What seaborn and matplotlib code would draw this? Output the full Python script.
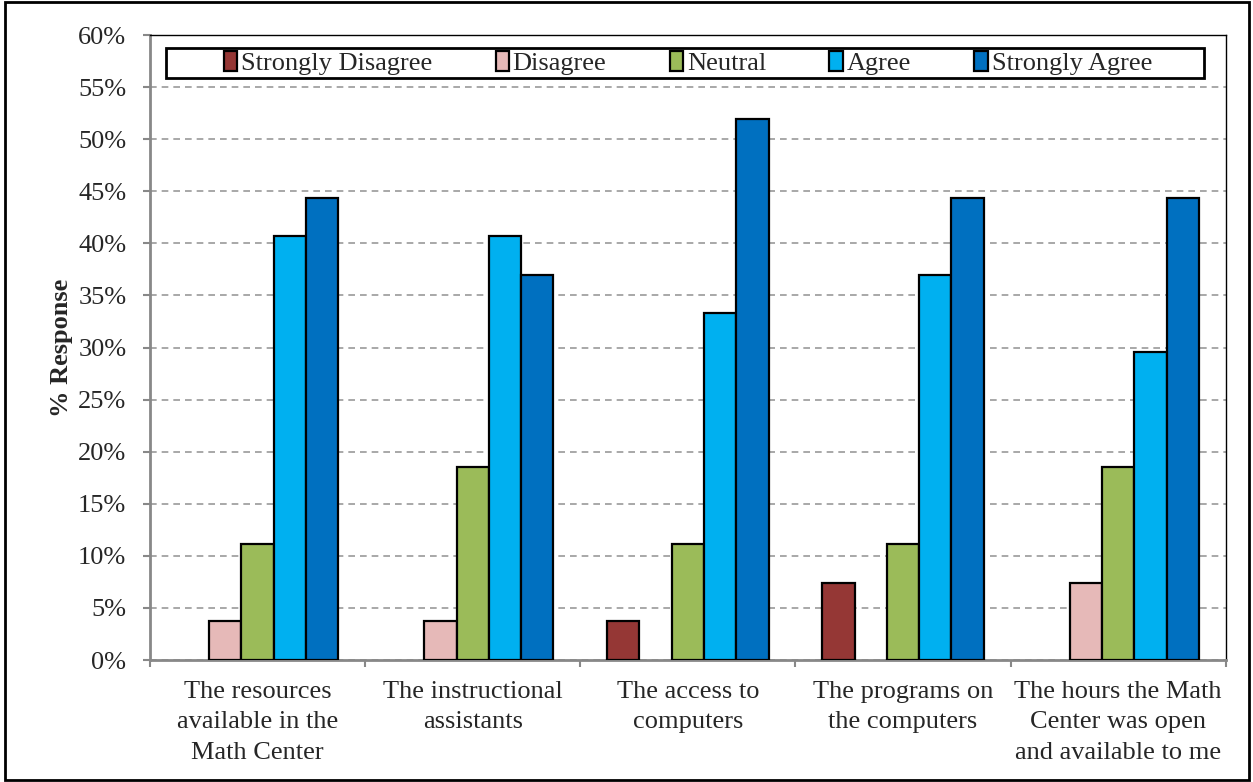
import matplotlib
matplotlib.use("Agg")
import matplotlib.pyplot as plt
import seaborn as sns
import pandas as pd
from matplotlib.ticker import PercentFormatter, MultipleLocator
from matplotlib.patches import Rectangle

# Survey items (x categories)
items = [
    "The resources\navailable in the\nMath Center",
    "The instructional\nassistants",
    "The access to\ncomputers",
    "The programs on\nthe computers",
    "The hours the Math\nCenter was open\nand available to me",
]
levels = ["Strongly Disagree", "Disagree", "Neutral", "Agree", "Strongly Agree"]
colors = ["#953735", "#E6B9B8", "#9BBB59", "#00B0F0", "#0070C0"]

# Percent of responses per level, one list per item
resources = [0.0, 3.7, 11.1, 40.7, 44.4]
assistants = [0.0, 3.7, 18.5, 40.7, 37.0]
access = [3.7, 0.0, 11.1, 33.3, 51.9]
programs = [7.4, 0.0, 11.1, 37.0, 44.4]
hours = [0.0, 7.4, 18.5, 29.6, 44.4]

rows = []
for item, vals in zip(items, [resources, assistants, access, programs, hours]):
    for lvl, v in zip(levels, vals):
        if v > 0:
            rows.append({"item": item, "level": lvl, "pct": v})
df = pd.DataFrame(rows)

sns.set_theme(style="white")
plt.rcParams["font.family"] = ["Liberation Serif", "DejaVu Serif"]

fig = plt.figure(figsize=(12.53, 7.82), dpi=100)
ax = fig.add_axes([0.1197, 0.156, 0.8585, 0.7992])

sns.barplot(data=df, x="item", y="pct", hue="level", order=items,
            hue_order=levels, palette=colors, width=0.75, dodge=True,
            edgecolor="black", linewidth=1.6, saturation=1, ax=ax, zorder=3)

ax.set_ylim(0, 60)
ax.set_xlim(-0.5, len(items) - 0.5)
ax.yaxis.set_major_locator(MultipleLocator(5))
ax.yaxis.set_major_formatter(PercentFormatter(decimals=0))
ax.yaxis.grid(True, linestyle=(0, (4, 3)), color="#999999", linewidth=1.2, zorder=0)
ax.set_axisbelow(True)

# category boundary ticks
ax.set_xticks(range(len(items)))
ax.set_xticklabels(items, fontsize=19, linespacing=1.5)
ax.set_xticks([i - 0.5 for i in range(len(items) + 1)], minor=True)
ax.tick_params(axis="x", which="major", length=0, pad=15)
ax.tick_params(axis="x", which="minor", length=5, width=1.5, color="#888888", direction="out")
ax.tick_params(axis="y", length=5, width=1.5, color="#888888", direction="out", labelsize=19, pad=12)
ax.tick_params(axis="both", bottom=True, left=True, which="both")

for side in ["top", "right"]:
    ax.spines[side].set_color("black")
    ax.spines[side].set_linewidth(1.0)
for side in ["left", "bottom"]:
    ax.spines[side].set_color("#888888")
    ax.spines[side].set_linewidth(2)

ax.set_xlabel("")
ax.set_ylabel("% Response", fontsize=19, fontweight="bold", labelpad=4)

handles, labels = ax.get_legend_handles_labels()
leg = ax.legend(handles, labels, ncol=5, loc="center",
                bbox_to_anchor=(0.5, 0.955), fontsize=19, frameon=False,
                handlelength=0.5, handleheight=0.75, handletextpad=0.15,
                columnspacing=2.4, borderaxespad=0)
for h in leg.legend_handles:
    h.set_linewidth(1.6)

# legend box outline
ax.add_patch(Rectangle((0.0145, 0.9312), 0.9656, 0.048, transform=ax.transAxes,
                       fill=False, edgecolor="black", linewidth=2, zorder=5,
                       clip_on=False))

# figure border
fig.patches.append(Rectangle((0.004, 0.002), 0.993, 0.996, transform=fig.transFigure,
                             fill=False, edgecolor="black", linewidth=2))

fig.savefig("out.png", dpi=100)
